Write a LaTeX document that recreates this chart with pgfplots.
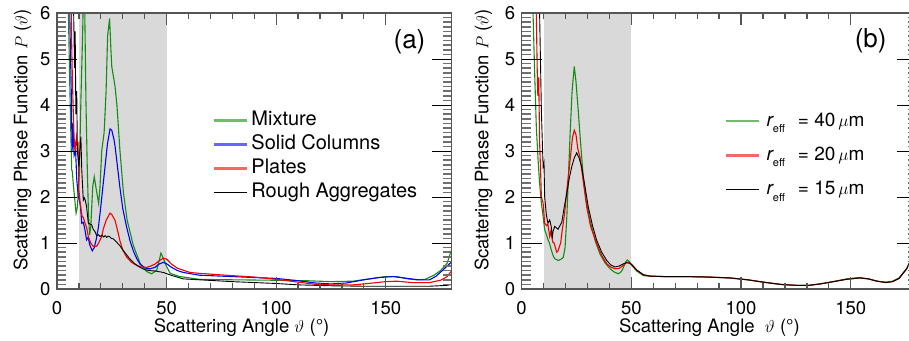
\documentclass[border=0pt]{standalone}
\usepackage{fontspec}
\setmainfont{TeX Gyre Heros}
\usepackage{pgfplots}
\pgfplotsset{compat=1.18}
\definecolor{cgreen}{RGB}{20,140,20}
\definecolor{cblue}{RGB}{0,0,255}
\definecolor{cred}{RGB}{245,0,0}
\definecolor{shade}{RGB}{217,217,217}
\definecolor{axgray}{RGB}{85,85,85}
\pgfplotsset{
  panel/.style={
    scale only axis, height=276pt,
    xmin=0,xmax=180,ymin=0,ymax=6,
    xtick={0,50,100,150}, minor x tick num=4,
    ytick={0,1,...,6}, minor y tick num=9,
    axis line style={axgray, line width=1.5pt},
    tick align=inside,
    major x tick style={axgray, line width=1.3pt, /pgfplots/major tick length=12pt},
    minor x tick style={axgray, line width=1.3pt, /pgfplots/minor tick length=6pt},
    major y tick style={black, line width=0.9pt, /pgfplots/major tick length=20pt},
    minor y tick style={axgray!85, line width=1.6pt, /pgfplots/minor tick length=9pt},
    /pgf/number format/assume math mode=true,
    ticklabel style={font=\fontsize{18.5}{20}\selectfont},
    xticklabel style={inner sep=1pt, yshift=-11pt},
    yticklabel style={xshift=-3pt},
    axis on top,
    every axis plot/.append style={line width=1.1pt},
    legend cell align=left,
    legend image code/.code={\draw[#1] (0pt,0pt) -- (33pt,0pt);},
  }
}
\begin{document}
\begin{tikzpicture}[x=1pt,y=1pt]
% ---------------- panel (a)
\begin{axis}[panel, at={(57pt,51pt)}, anchor=south west, width=394.5pt,
  legend style={at={(axis description cs:0.395,0.646)}, anchor=north west, draw=none, fill=none,
    inner sep=0pt, row sep=4.5pt, column sep=3pt, font=\fontsize{20}{22}\selectfont,
    nodes={inner sep=0pt, text height=15pt, text depth=4.5pt}},
]
\addlegendimage{cgreen!60!white, line width=2.4pt}
\addlegendentry{Mixture}
\addlegendimage{cblue!60!white, line width=2.4pt}
\addlegendentry{Solid Columns}
\addlegendimage{cred!60!white, line width=2.4pt}
\addlegendentry{Plates}
\addlegendimage{black, line width=1pt}
\addlegendentry{Rough Aggregates}
\addplot[draw=none, fill=shade, forget plot] coordinates {(10,0) (10,6) (50,6) (50,0)} -- cycle;
% Mixture
\addplot[cgreen, forget plot] coordinates {
(4.8,6.8) (5.2,6.0) (5.8,4.5) (6.4,3.2) (6.7,2.6) (7.0,2.55) (7.4,2.3) (8.0,2.0) (8.7,1.65) (9.3,1.78)
(10.2,2.5) (10.9,4.1) (11.7,5.56) (12.1,6.5) (12.6,6.3) (13.2,4.1) (13.8,2.66) (14.4,1.57) (14.9,1.17)
(15.4,1.35) (16.3,2.22) (17.0,2.44) (17.8,2.2) (19.0,1.86) (19.6,2.2) (20.4,3.0) (21.5,3.4) (22.4,4.3)
(23.1,5.5) (24.0,5.88) (24.6,5.2) (25.0,4.83) (26.5,4.4) (27.4,3.96) (28.7,3.02) (30.3,2.1) (32.0,1.5)
(34.8,0.95) (37.9,0.56) (40.9,0.38) (43.2,0.33) (45.5,0.41) (46.7,0.63) (47.4,0.78) (48.5,0.67)
(49.9,0.5) (51.6,0.34) (56.1,0.27) (65,0.21) (80,0.2) (100,0.19) (114,0.18) (125,0.16) (135,0.17)
(144,0.23) (150,0.27) (155,0.27) (160,0.22) (164,0.2) (168,0.21) (172,0.3) (175,0.4) (178,0.56) (180,0.85)
};
% Solid Columns
\addplot[cblue, forget plot] coordinates {
(5.6,6.8) (6.0,5.5) (6.5,4.3) (6.9,3.0) (7.3,3.6) (7.8,2.9) (8.5,3.0) (9.0,2.4) (9.7,2.0) (10.2,1.93)
(10.7,1.8) (11.3,1.43) (12.0,1.45) (12.7,1.3) (13.5,1.07) (14.2,1.12) (15.0,0.95) (16.1,0.83) (17.0,0.9)
(18.0,1.1) (18.9,1.34) (20.0,1.8) (21.0,2.25) (21.9,2.65) (23.0,3.15) (24.2,3.48) (25.0,3.45) (26.0,3.25)
(26.5,3.1) (27.5,2.7) (28.7,2.21) (30.0,1.75) (31.8,1.34) (33.3,1.05) (34.8,0.83) (36.4,0.66) (37.9,0.54)
(39.5,0.48) (40.9,0.44) (42.5,0.44) (44.7,0.47) (46.5,0.54) (48.5,0.58) (50.0,0.55) (52.3,0.47) (55,0.4)
(57.6,0.36) (65,0.30) (80,0.27) (90,0.25) (100,0.23) (110,0.18) (118,0.13) (125,0.11) (132,0.13) (140,0.2)
(147,0.25) (153.5,0.27) (160,0.23) (165,0.2) (170,0.2) (173,0.28) (176,0.41) (178,0.5) (180,0.59)
};
% Plates
\addplot[cred, forget plot] coordinates {
(6.3,7) (6.7,5.34) (7.0,4.6) (7.4,3.9) (7.8,3.3) (8.2,3.0) (8.5,3.17) (8.9,3.3) (9.3,3.0) (9.6,3.2)
(10.0,2.15) (10.5,1.9) (11.0,1.72) (11.5,1.57) (12.0,1.56) (12.8,1.43) (13.5,1.34) (14.3,1.14) (15.5,0.99)
(16.5,0.93) (17.3,0.92) (18.1,0.93) (19.0,1.0) (20.4,1.14) (21.1,1.3) (22.5,1.5) (24.2,1.65) (25.0,1.62)
(26.5,1.49) (27.5,1.3) (28.7,1.05) (30,0.85) (31.8,0.69) (34,0.58) (36.4,0.51) (38.5,0.48) (40.9,0.47)
(42.8,0.5) (44.7,0.54) (46.5,0.61) (48.5,0.67) (50.0,0.65) (52.3,0.54) (55,0.45) (60.7,0.36) (65,0.34)
(80,0.29) (90,0.26) (100,0.21) (110,0.15) (118,0.1) (125,0.09) (135,0.09) (140,0.11) (150,0.16) (155,0.17)
(162,0.14) (170,0.14) (175,0.19) (178,0.27) (180,0.39)
};
% Rough Aggregates
\addplot[black, line width=0.9pt, forget plot] coordinates {
(7.2,7) (7.6,6.0) (8.0,4.8) (8.3,5.6) (8.6,3.8) (9.0,4.3) (9.3,3.0) (9.7,2.8) (10.0,2.66) (10.4,3.0)
(10.9,3.31) (11.3,2.59) (12.0,1.93) (12.5,1.98) (12.9,1.93) (13.5,1.79) (14.3,1.43) (15.1,1.41) (15.8,1.4)
(16.5,1.3) (17.3,1.25) (18.1,1.16) (19.0,1.18) (19.6,1.14) (20.5,1.17) (21.3,1.13) (22.0,1.16) (22.7,1.12)
(23.4,1.15) (24.0,1.14) (24.8,1.1) (25.7,1.09) (27,1.03) (28.7,0.94) (30.5,0.82) (33.3,0.65) (35.5,0.55)
(37.9,0.47) (40,0.42) (42.4,0.4) (45,0.39) (48.5,0.36) (52,0.3) (57.6,0.22) (65,0.2) (80,0.16) (90,0.14)
(100,0.12) (110,0.09) (125,0.07) (140,0.06) (155,0.06) (170,0.06) (178,0.08) (180,0.1)
};
\end{axis}
\node[font=\fontsize{26}{28}\selectfont] at (409.5,298.3) {(a)};
\node[font=\fontsize{18.5}{20}\selectfont, rotate=90, anchor=center] at (22.5,200) {Scattering Phase Function $P$ ($\vartheta$)};
\node[font=\fontsize{18.5}{20}\selectfont, anchor=base] at (241.6,7.3) {Scattering Angle $\vartheta$ (°)};
% ---------------- panel (b)
\begin{axis}[panel, at={(521.6pt,51pt)}, anchor=south west, width=395pt,
  legend style={at={(axis description cs:0.515,0.645)}, anchor=north west, draw=none, fill=none,
    inner sep=0pt, row sep=14.3pt, column sep=6pt, font=\fontsize{19}{21}\selectfont,
    nodes={inner sep=0pt, text height=15pt, text depth=5pt}},
]
\addlegendimage{cgreen!60!white, line width=2.4pt}
\addlegendentry{{\itshape r}\raisebox{-6.5pt}{\fontsize{11}{12}\selectfont eff}\hspace{13pt}= 40\hspace{3pt}$\mu$m}
\addlegendimage{cred!60!white, line width=2.4pt}
\addlegendentry{{\itshape r}\raisebox{-6.5pt}{\fontsize{11}{12}\selectfont eff}\hspace{13pt}= 20\hspace{3pt}$\mu$m}
\addlegendimage{black, line width=1pt}
\addlegendentry{{\itshape r}\raisebox{-6.5pt}{\fontsize{11}{12}\selectfont eff}\hspace{13pt}= 15\hspace{3pt}$\mu$m}
\addplot[draw=none, fill=shade, forget plot] coordinates {(10,0) (10,6) (50,6) (50,0)} -- cycle;
\addplot[cgreen, forget plot] coordinates {
(4.8,7) (5.2,6.0) (6.0,4.62) (6.7,3.53) (7.5,2.81) (8.2,2.3) (9.0,1.87) (9.8,1.58) (10.5,1.29) (11.2,1.2)
(12.0,1.07) (12.7,1.0) (13.5,0.85) (14.4,0.72) (15.1,0.66) (16.7,0.62) (18.1,0.65) (19.0,0.69) (19.8,0.9)
(20.6,1.56) (21.3,2.4) (22.1,3.37) (23.0,4.3) (24.0,4.84) (24.8,4.5) (25.8,3.88) (27,3.1) (28.1,2.43)
(29.5,1.9) (31.2,1.49) (33.5,1.05) (35.7,0.76) (38,0.57) (40.3,0.44) (42.2,0.37) (44.1,0.33) (45.5,0.38)
(46.4,0.47) (47.3,0.58) (48.2,0.63) (49.2,0.59) (50.2,0.51) (52.5,0.39) (55.5,0.29) (58.5,0.28) (65,0.27)
(75,0.27) (85,0.26) (95,0.24) (103,0.2) (110,0.15) (118,0.1) (125,0.08) (131,0.08) (136,0.11) (142,0.16)
(148,0.22) (154,0.25) (158,0.22) (162,0.17) (166,0.15) (169,0.17) (172,0.24) (175.5,0.45) (178,0.7) (180,0.95)
};
\addplot[cred, forget plot] coordinates {
(6.0,7) (6.7,6.0) (7.1,4.8) (7.4,4.2) (7.8,4.6) (8.2,3.2) (8.7,2.5) (9.0,2.0) (9.8,1.87) (10.5,1.43)
(11.4,1.38) (12.0,1.4) (12.8,1.14) (13.3,1.25) (14.2,1.02) (14.8,1.0) (16.0,0.8) (16.5,0.82) (17.8,1.0)
(18.3,1.2) (19.6,1.65) (20.5,2.1) (22.1,2.8) (23.2,3.3) (24.0,3.45) (24.8,3.35) (25.6,3.05) (26.6,2.87)
(28.2,2.3) (29.7,1.78) (31.5,1.35) (34.2,0.99) (36.5,0.73) (38.8,0.55) (40.5,0.48) (42.6,0.44) (44.5,0.45)
(46.5,0.52) (47.9,0.58) (49,0.58) (50.2,0.53) (52.5,0.41) (55.5,0.31) (58.5,0.28) (65,0.27) (75,0.27)
(85,0.26) (95,0.24) (103,0.2) (110,0.15) (118,0.1) (125,0.08) (131,0.08) (136,0.11) (142,0.16) (148,0.21)
(154,0.24) (158,0.22) (162,0.17) (166,0.14) (169,0.16) (172,0.23) (175.5,0.44) (178,0.68) (180,0.92)
};
\addplot[black, line width=0.9pt, forget plot] coordinates {
(7.5,7) (8.2,6.0) (9.0,3.9) (9.5,3.1) (9.8,2.67) (10.2,2.75) (10.5,2.01) (11.3,1.6) (12.0,1.43) (12.8,1.5)
(13.5,1.36) (14.0,1.1) (14.3,1.25) (15.1,1.36) (16.6,1.3) (17.5,1.38) (18.3,1.45) (19.5,1.8) (20.6,2.08)
(21.7,2.4) (22.8,2.65) (24,2.85) (25.1,2.96) (26.2,2.85) (27.4,2.65) (28.8,2.25) (30.4,1.78) (32.3,1.38)
(34.2,1.06) (36.5,0.8) (38.8,0.62) (40.7,0.52) (42.6,0.48) (44.5,0.5) (46.5,0.55) (47.9,0.57) (49.2,0.56)
(50.2,0.53) (52.5,0.41) (55.5,0.31) (58.5,0.28) (65,0.27) (75,0.27) (85,0.26) (95,0.24) (103,0.2) (110,0.15)
(118,0.1) (125,0.08) (131,0.08) (136,0.11) (142,0.16) (148,0.21) (154,0.24) (158,0.22) (162,0.17) (166,0.14)
(169,0.16) (172,0.23) (175.5,0.44) (178,0.68) (180,0.92)
};
\end{axis}
\node[font=\fontsize{26}{28}\selectfont] at (870.7,299) {(b)};
\node[font=\fontsize{18.5}{20}\selectfont, rotate=90, anchor=center] at (483.5,200) {Scattering Phase Function $P$ ($\vartheta$)};
\node[font=\fontsize{18.5}{20}\selectfont, anchor=base] at (709.5,7.3) {Scattering Angle\ \ $\vartheta$ (°)};
\pgfresetboundingbox
\path[use as bounding box] (0,0) rectangle (909,340);
\end{tikzpicture}
\end{document}
